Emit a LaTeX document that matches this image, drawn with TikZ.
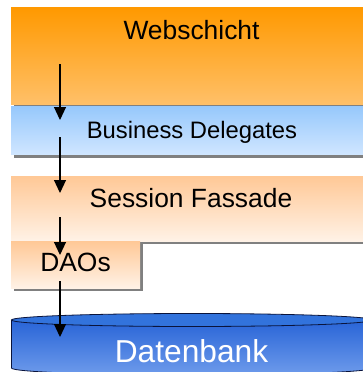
\documentclass[tikz,border=0pt]{standalone}
\usepackage{fontspec}
\setmainfont{Liberation Sans}
\usepackage{xcolor,tikz}
\usetikzlibrary{arrows.meta}
\definecolor{weborange}{RGB}{255,153,0}
\definecolor{weblight}{RGB}{255,192,105}
\definecolor{bdtop}{RGB}{150,200,252}
\definecolor{bdbottom}{RGB}{208,230,255}
\definecolor{sftop}{RGB}{255,200,150}
\definecolor{sfbottom}{RGB}{255,242,230}
\definecolor{dbtop}{RGB}{40,100,215}
\definecolor{dbbottom}{RGB}{110,155,235}
\definecolor{dblid}{RGB}{50,115,220}
\definecolor{dbline}{RGB}{10,20,60}
\definecolor{shadowgray}{RGB}{128,128,128}
\tikzset{
  layertext/.style={anchor=base, inner sep=0pt, font=\fontsize{#1}{#1}\selectfont},
  layershadow/.style={fill=shadowgray},
  callarrow/.style={-{Triangle[length=13pt,width=12pt]}, line width=1.2pt}
}

\begin{document}
\begin{tikzpicture}[x=1pt, y=-1pt]
          \fill[white, use as bounding box] (0,0) rectangle (363,372);
          \fill[layershadow] (14,10.5) rectangle (366,107.5);
          \shade[top color=weborange, bottom color=weblight] (11,7.5) rectangle (363,104.5);
          \fill[layershadow] (14,109) rectangle (366,157.5);
          \shade[top color=bdtop, bottom color=bdbottom] (11,106) rectangle (363,154.5);
          \fill[layershadow] (14,179) rectangle (366,244);
          \shade[top color=sftop, bottom color=sfbottom] (11,176) rectangle (363,241);
          \fill[layershadow] (14,244) rectangle (143,291);
          \shade[top color=sftop, bottom color=sfbottom] (11,241) rectangle (140,288);
          \shade[top color=dbtop, bottom color=dbbottom, draw=dbline, line width=0.8pt] (11.5,320) -- (11.5,368) arc[start angle=180, end angle=0, x radius=180.5, y radius=7] -- (372.5,320) -- cycle;
          \filldraw[fill=dblid, draw=dbline, line width=0.8pt] (192,320) ellipse[x radius=180.5, y radius=6.5];
          \node[layertext=26.4] (web) at (191.5,39) {Webschicht};
          \node[layertext=23.8] (bd) at (192,138) {Business Delegates};
          \node[layertext=26.4] (sf) at (191,207) {Session Fassade};
          \node[layertext=26.4] (dao) at (75.5,271) {DAOs};
          \node[layertext=31.7, text=white] (db) at (191.5,362) {Datenbank};
          \coordinate (webout) at (60,64);
          \coordinate (bdin) at (60,120);
          \coordinate (bdout) at (60,137);
          \coordinate (sfin) at (60,193);
          \coordinate (sfout) at (60,217);
          \coordinate (daoin) at (60,255);
          \coordinate (daoout) at (60,281);
          \coordinate (dbin) at (60,337);
          \draw[callarrow] (webout) -- (bdin);
          \draw[callarrow] (bdout) -- (sfin);
          \draw[callarrow] (sfout) -- (daoin);
          \draw[callarrow] (daoout) -- (dbin);
        \end{tikzpicture}
\end{document}
